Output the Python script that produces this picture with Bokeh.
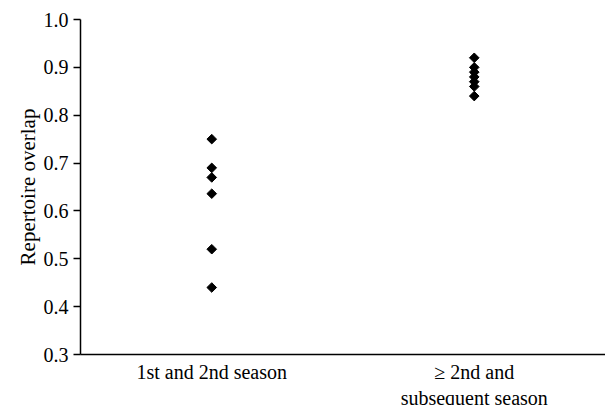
import math
from bokeh.plotting import figure
from bokeh.models import FactorRange, Range1d, FixedTicker, CustomJSTickFormatter, Label
from bokeh.embed import file_html
from bokeh.resources import INLINE

categories = ["1st and 2nd season", "≥ 2nd and\nsubsequent season"]
group1_values = [0.75, 0.69, 0.67, 0.636, 0.52, 0.44]
group2_values = [0.92, 0.90, 0.89, 0.88, 0.87, 0.86, 0.84]
y_ticks = [0.3, 0.4, 0.5, 0.6, 0.7, 0.8, 0.9, 1.0]
y_min, y_max = 0.3, 1.0

xs = [categories[0]] * len(group1_values) + [categories[1]] * len(group2_values)
ys = group1_values + group2_values

FONT = "Liberation Serif"
FW, FH = 525, 335
TOP, LEFT = 19, 80

p = figure(frame_width=FW, frame_height=FH, x_range=FactorRange(*categories),
           y_range=Range1d(y_min, y_max), output_backend="svg", toolbar_location=None,
           min_border_top=TOP, min_border_right=0, min_border_bottom=0,
           min_border_left=LEFT)
p.outline_line_color = None
p.xgrid.grid_line_color = None
p.ygrid.grid_line_color = None
p.background_fill_color = "white"

p.scatter(xs, ys, marker="square", angle=math.pi / 4, size=6.8, color="black")

p.yaxis.ticker = FixedTicker(ticks=y_ticks)
p.yaxis.formatter = CustomJSTickFormatter(code="return tick.toFixed(1);")
p.yaxis.major_tick_in = 0
p.yaxis.major_tick_out = 7
p.yaxis.major_tick_line_width = 1.5
p.yaxis.axis_line_width = 1.5
p.yaxis.minor_tick_line_color = None
p.yaxis.axis_line_color = "black"
p.yaxis.major_tick_line_color = "black"
p.yaxis.major_label_text_font = FONT
p.yaxis.major_label_text_font_size = "20px"
p.yaxis.major_label_text_color = "black"
p.yaxis.major_label_standoff = 5
p.yaxis.axis_label = "Repertoire overlap"
p.yaxis.axis_label_text_font = FONT
p.yaxis.axis_label_text_font_size = "21px"
p.yaxis.axis_label_text_font_style = "normal"
p.yaxis.axis_label_text_color = "black"
p.yaxis.axis_label_standoff = 1

# x tick labels: first line via the axis, further lines via Labels
first_lines = {c: c.split("\n")[0] for c in categories}
p.xaxis.major_label_overrides = first_lines
p.xaxis.major_tick_line_color = None
p.xaxis.minor_tick_line_color = None
p.xaxis.axis_line_color = "black"
p.xaxis.axis_line_width = 1.5
p.xaxis.major_label_text_font = FONT
p.xaxis.major_label_text_font_size = "20px"
p.xaxis.major_label_text_color = "black"
p.xaxis.major_label_standoff = 0

px = (y_max - y_min) / FH
for idx, c in enumerate(categories):
    lines = c.split("\n")
    for i, line in enumerate(lines[1:], start=1):
        p.add_layout(Label(x=idx + 0.5, y=y_min - (-7 + 22 * i) * px, text=line,
                           text_align="center", text_baseline="top",
                           text_font=FONT, text_font_size="20px", text_color="black"))

open("out.html", "w").write(file_html(p, INLINE))
